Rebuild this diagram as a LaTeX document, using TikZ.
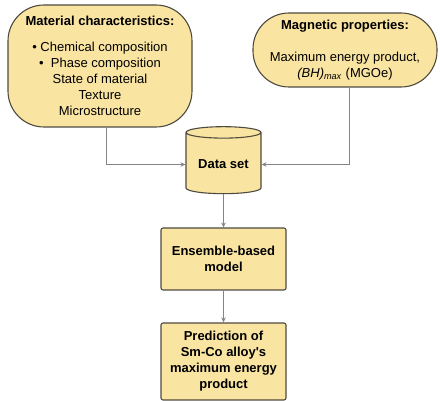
\documentclass[tikz,border=0pt]{standalone}
\usepackage{fontspec}
\setmainfont{Liberation Sans}
\usetikzlibrary{arrows.meta,shapes.geometric}
\definecolor{boxfill}{HTML}{F9E4A2}
\definecolor{boxline}{HTML}{4F4B3F}
\definecolor{linkgray}{HTML}{858585}
\tikzset{%
	terminal/.style = {draw=boxline, fill=boxfill, line width=1.1pt, rounded corners=36pt, align=center, font=\fontsize{13}{16}\selectfont},
	database/.style = {draw=boxline, fill=boxfill, line width=1.1pt, cylinder, shape border rotate=90, aspect=0.2, minimum width=75pt, minimum height=67pt, font=\bfseries\fontsize{13}{16}\selectfont},
	process/.style  = {draw=boxline, fill=boxfill, line width=1.1pt, rounded corners=2pt, minimum width=125pt, align=center, font=\bfseries\fontsize{13}{16}\selectfont},
	arrow/.style    = {draw=linkgray, line width=1pt, -{Stealth[length=5pt,width=4.5pt]}},
}

\begin{document}
\begin{tikzpicture}[x=1pt,y=-1pt]
	\useasboundingbox (0,0) rectangle (440,401);
	\node[terminal, minimum width=184pt, minimum height=122pt] (mat) at (100,66) {\textbf{Material characteristics:}\\[10pt] \textbullet\ Chemical composition\\ \textbullet\ \ Phase composition\\ State of material\\ Texture\\ Microstructure};
	\node[terminal, minimum width=184pt, minimum height=74pt] (mag) at (345,50) {\textbf{Magnetic properties:}\\[16pt] Maximum energy product,\\ \textit{(BH)}\textsubscript{\textit{max}} (MGOe)};
	\node[database] (data) at (223.5,164.5) {Data set};
	\node[process, minimum height=62pt] (ens) at (223.5,259) {Ensemble-based\\ model};
	\node[process, minimum height=77pt] (pred) at (223.5,361.5) {Prediction of\\ Sm-Co alloy\textquotesingle s\\ maximum energy\\ product};
	
	\draw[arrow] ([xshift=6pt]mat.south) |- (data.west);
	\draw[arrow] ([xshift=4pt]mag.south) |- (data.east);
	\draw[arrow] (data.south) -- (ens.north);
	\draw[arrow] (ens.south) -- (pred.north);
\end{tikzpicture}
\end{document}
